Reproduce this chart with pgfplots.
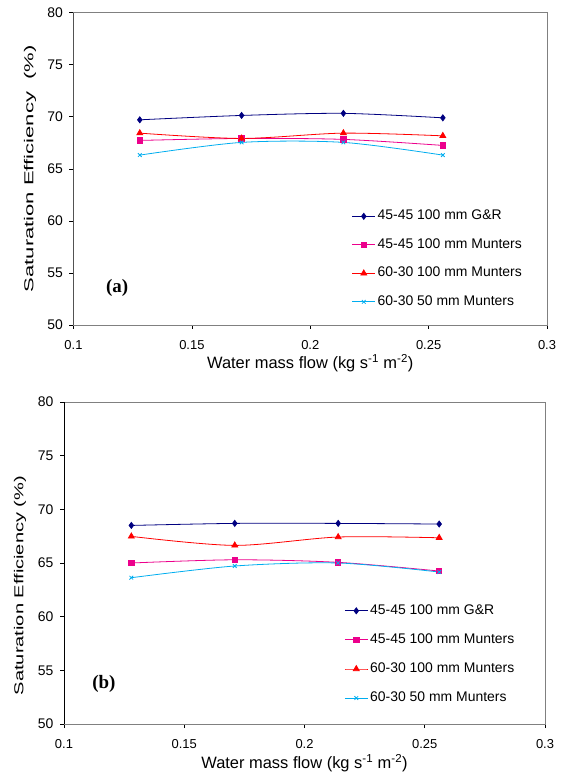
\documentclass[border=0pt]{standalone}
\usepackage{pgfplots}
\pgfplotsset{compat=1.18}
\usepackage{fontspec}
\usepackage{graphicx}
\setmainfont{Liberation Sans}
\newfontfamily\serifb{Liberation Serif}
\definecolor{navy}{RGB}{0,0,128}
\definecolor{axgray}{RGB}{128,128,128}
\pgfplotsset{
 common/.style={
  scale only axis,
  anchor=south west,
  xmin=0.1, xmax=0.3, ymin=50, ymax=80,
  xtick={0.1,0.15,0.2,0.25,0.3},
  xticklabels={0.1,0.15,0.2,0.25,0.3},
  ytick={50,55,60,65,70,75,80},
  yticklabels={50,55,60,65,70,75,80},
  tick align=outside,
  major tick length=4bp,
  xtick pos=bottom, ytick pos=left,
  tick style={black, line width=0.6bp},
  axis line style={axgray, line width=0.8bp},
  xticklabel style={font=\fontsize{13}{15}\selectfont, yshift=-8bp},
  yticklabel style={font=\fontsize{14}{16}\selectfont, xshift=-3bp},
  xlabel style={font=\fontsize{16.5}{18}\selectfont, anchor=center},
  ylabel style={font=\fontsize{13}{15}\selectfont, anchor=center},
  legend cell align=left,
  legend style={draw=none, fill=none, inner sep=0pt, font=\fontsize{14}{16}\selectfont,
    nodes={inner ysep=0pt, inner xsep=2bp, text height=10bp, text depth=3bp}},
  legend image code/.code={\draw[mark repeat=2,mark phase=2,##1] plot coordinates {(0bp,0bp) (11.5bp,0bp) (23bp,0bp)};},
 },
 s1/.style={navy, line width=0.8bp, smooth, mark=diamond*, mark size=3bp, mark options={solid, fill=navy}},
 s2/.style={magenta, line width=0.8bp, smooth, mark=square*, mark size=2.7bp, mark options={solid, fill=magenta}},
 s3/.style={red, line width=0.8bp, smooth, mark=triangle*, mark size=3.4bp, mark options={solid, fill=red}},
 s4/.style={cyan, line width=0.8bp, smooth, mark=x, mark size=2.6bp, mark options={solid}},
}
\begin{document}
\begin{tikzpicture}
\useasboundingbox (0,0) rectangle (565bp,773bp);
% ---------- (a) ----------
\begin{axis}[common,
  at={(73.5bp,448bp)}, width=473.5bp, height=312.3bp,
  xlabel={Water mass flow (kg s\textsuperscript{-1} m\textsuperscript{-2})},
  ylabel={\scalebox{1.7}[1]{Saturation Efficiency\ \ (\%)}},
  xlabel style={at={(rel axis cs:0.5,-0.1217)}},
  ylabel style={at={(rel axis cs:-0.092,0.5)}},
  legend style={at={(axis cs:0.2175,56.33)}, anchor=west, row sep=15.5bp},
]
\addplot[s1] coordinates {(0.128,69.71) (0.171,70.13) (0.214,70.33) (0.256,69.90)};
\addlegendentry{45-45 100 mm G\&R}
\addplot[s2] coordinates {(0.128,67.73) (0.171,67.92) (0.214,67.83) (0.256,67.25)};
\addlegendentry{45-45 100 mm Munters}
\addplot[s3] coordinates {(0.128,68.43) (0.171,67.92) (0.214,68.43) (0.256,68.17)};
\addlegendentry{60-30 100 mm Munters}
\addplot[s4] coordinates {(0.128,66.32) (0.171,67.54) (0.214,67.54) (0.256,66.32)};
\addlegendentry{60-30 50 mm Munters}
\draw[black, line width=0.8bp] (rel axis cs:0,0) -- (rel axis cs:0,1);
\node[font=\serifb\bfseries\fontsize{19}{21}\selectfont] at (axis cs:0.1184,53.6) {(a)};
\end{axis}
% ---------- (b) ----------
\begin{axis}[common,
  at={(64bp,49bp)}, width=481bp, height=322bp,
  xlabel={Water mass flow (kg s\textsuperscript{-1} m\textsuperscript{-2})},
  ylabel={\scalebox{1.55}[1]{Saturation Efficiency (\%)}},
  xlabel style={at={(rel axis cs:0.5,-0.121)}},
  ylabel style={at={(rel axis cs:-0.0915,0.43)}},
  legend style={at={(axis cs:0.2165,56.48)}, anchor=west, row sep=16.1bp},
]
\addplot[s1] coordinates {(0.128,68.50) (0.171,68.69) (0.214,68.69) (0.256,68.63)};
\addlegendentry{45-45 100 mm G\&R}
\addplot[s2] coordinates {(0.128,65.00) (0.171,65.30) (0.214,65.06) (0.256,64.25)};
\addlegendentry{45-45 100 mm Munters}
\addplot[s3] coordinates {(0.128,67.48) (0.171,66.64) (0.214,67.42) (0.256,67.35)};
\addlegendentry{60-30 100 mm Munters}
\addplot[s4] coordinates {(0.128,63.63) (0.171,64.72) (0.214,65.00) (0.256,64.16)};
\addlegendentry{60-30 50 mm Munters}
\draw[black, line width=0.8bp] (rel axis cs:0,0) -- (rel axis cs:0,1);
\node[font=\serifb\bfseries\fontsize{19}{21}\selectfont] at (axis cs:0.1166,53.7) {(b)};
\end{axis}
\end{tikzpicture}
\end{document}
